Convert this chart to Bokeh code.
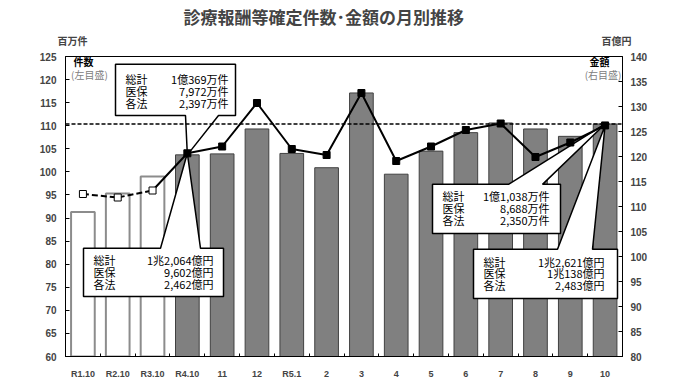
from bokeh.plotting import figure
from bokeh.models import Range1d, LinearAxis, FixedTicker, Span, Label
from bokeh.embed import file_html
from bokeh.resources import INLINE

# ---------------- data ----------------
categories = ["R1.10", "R2.10", "R3.10", "R4.10", "11", "12", "R5.1", "2",
              "3", "4", "5", "6", "7", "8", "9", "10"]
counts = [91.3, 95.3, 99.0, 103.69, 103.9, 109.3, 104.0, 100.9,
          117.1, 99.5, 104.5, 108.5, 110.6, 109.3, 107.7, 110.38]      # 百万件 (left)
amounts = [112.5, 111.8, 113.2, 120.64, 122.0, 130.7, 121.5, 120.3,
           132.7, 119.1, 122.0, 125.3, 126.6, 119.9, 122.8, 126.21]    # 百億円 (right)
n_prev = 3   # earlier-year October values (white bars / open markers)

left_ticks = list(range(60, 130, 5))
right_ticks = list(range(80, 145, 5))

row_labels = ["総計", "医保", "各法"]
count_first = ["1億369万件", "7,972万件", "2,397万件"]
amount_first = ["1兆2,064億円", "9,602億円", "2,462億円"]
count_last = ["1億1,038万件", "8,688万件", "2,350万件"]
amount_last = ["1兆2,621億円", "1兆138億円", "2,483億円"]

title = "診療報酬等確定件数･金額の月別推移"
unit_left, unit_right = "百万件", "百億円"

# ---------------- layout helpers ----------------
L_MIN, L_MAX = 60, 125
R_MIN, R_MAX = 80, 140
FL, FR, FT, FB = 65, 622, 52, 357   # plot-box edges on the page (px)
W, H = 672, 381
N = len(categories)
xc = [i + 0.5 for i in range(N)]     # category slot centres

def px_x(px):
    return (px - FL) / (FR - FL) * N

def px_yl(py):
    return L_MAX - (py - FT) * (L_MAX - L_MIN) / (FB - FT)

def px_yr(py):
    return R_MAX - (py - FT) * (R_MAX - R_MIN) / (FB - FT)

JP = "Noto Sans CJK JP"
NUM = "Liberation Sans"

p = figure(width=W, height=H, x_range=Range1d(0, N),
           y_range=Range1d(L_MIN, L_MAX), output_backend="svg",
           toolbar_location=None,
           min_border_left=FL, min_border_right=W - FR,
           min_border_top=FT, min_border_bottom=H - FB)
p.extra_y_ranges = {"amt": Range1d(R_MIN, R_MAX)}
p.extra_x_ranges = {"page": Range1d(FL, FR)}
p.xgrid.visible = False
p.ygrid.visible = False
p.outline_line_color = "black"
p.outline_line_width = 1
p.background_fill_color = "white"
p.border_fill_color = "white"

# title
p.title.text = title
p.title.align = "left"
p.title.offset = 118
p.title.text_font = JP
p.title.text_font_size = "17px"
p.title.text_font_style = "bold"
p.title.standoff = 2

# the figure's own axes
xa = p.below[0]
ya = p.left[0]

# unit texts above both value axes (an unlined axis in the top panel)
ua = LinearAxis(x_range_name="page", ticker=FixedTicker(ticks=[72, 616]),
                major_label_overrides={72: unit_left, 616: unit_right})
ua.axis_line_color = None
ua.major_tick_line_color = None
ua.minor_tick_line_color = None
ua.major_label_text_font = JP
ua.major_label_text_font_style = "bold"
ua.major_label_text_font_size = "10px"
ua.major_label_standoff = 3
p.add_layout(ua, "above")

# left axis
ya.ticker = FixedTicker(ticks=left_ticks)
ya.major_tick_in = 4
ya.major_tick_out = 0
ya.minor_tick_line_color = None
ya.axis_line_color = "black"
ya.major_label_text_font = NUM
ya.major_label_text_font_style = "bold"
ya.major_label_text_font_size = "10px"
ya.major_label_standoff = 9

# right axis
ra = LinearAxis(y_range_name="amt", ticker=FixedTicker(ticks=right_ticks))
ra.major_tick_in = 4
ra.major_tick_out = 0
ra.minor_tick_line_color = None
ra.axis_line_color = "black"
ra.major_label_text_font = NUM
ra.major_label_text_font_style = "bold"
ra.major_label_text_font_size = "10px"
ra.major_label_standoff = 8
p.add_layout(ra, "right")

# x axis: labels at slot centres, small inside ticks at slot boundaries
xa.ticker = FixedTicker(ticks=xc, minor_ticks=list(range(N + 1)))
xa.major_label_overrides = {c: cat for c, cat in zip(xc, categories)}
xa.major_tick_line_color = None
xa.minor_tick_in = 3
xa.minor_tick_out = 0
xa.minor_tick_line_color = "black"
xa.axis_line_color = "black"
xa.major_label_text_font = NUM
xa.major_label_text_font_style = "bold"
xa.major_label_text_font_size = "9px"
xa.major_label_standoff = 6

# ---------------- bars ----------------
p.vbar(x=xc[:n_prev], top=counts[:n_prev], bottom=0, width=0.68,
       fill_color="white", line_color="#8c8c8c", line_width=2)
p.vbar(x=xc[n_prev:], top=counts[n_prev:], bottom=0, width=0.68,
       fill_color="#808080", line_color="#404040", line_width=1)

# ---------------- callouts ----------------
def callout(x0, x1, y0, y1, b0, b1, tip, bottom_wedge, yconv):
    X0, X1, B0, B1 = px_x(x0), px_x(x1), px_x(b0), px_x(b1)
    Y0, Y1 = yconv(y0), yconv(y1)
    tx, ty = tip
    if bottom_wedge:
        xs = [X0, X1, X1, B1, tx, B0, X0]
        ys = [Y0, Y0, Y1, Y1, ty, Y1, Y1]
    else:
        xs = [X0, B0, tx, B1, X1, X1, X0]
        ys = [Y0, Y0, ty, Y0, Y0, Y1, Y1]
    return xs, ys

i0 = n_prev          # first current month (R4.10)
il = N - 1           # latest month

xs, ys = callout(115, 235, 60, 112, 185, 218, (xc[i0], counts[i0]), True, px_yl)
p.patch(xs, ys, fill_color="white", line_color="black", line_width=1.5)
xs, ys = callout(83, 223, 247, 296, 160, 200, (xc[i0], amounts[i0]), False, px_yr)
p.patch(xs, ys, fill_color="white", line_color="black", line_width=1.5, y_range_name="amt")
xs, ys = callout(473, 617, 248, 298, 557, 592, (xc[il], amounts[il]), False, px_yr)
p.patch(xs, ys, fill_color="white", line_color="black", line_width=1.5, y_range_name="amt")
xs, ys = callout(432, 560, 182, 232, 508, 542, (xc[il], counts[il]), False, px_yl)
p.patch(xs, ys, fill_color="white", line_color="black", line_width=1.5)

# reference level of latest count
p.add_layout(Span(location=counts[-1], dimension="width", line_color="black",
                  line_width=1.5, line_dash="4 2"))

# ---------------- amount line ----------------
p.line(x=xc[:n_prev], y=amounts[:n_prev], line_color="black",
       line_width=2, line_dash="6 3", y_range_name="amt")
p.line(x=xc[n_prev - 1:], y=amounts[n_prev - 1:], line_color="black",
       line_width=2, y_range_name="amt")
p.scatter(x=xc[:n_prev], y=amounts[:n_prev], marker="square", size=7,
          fill_color="white", line_color="black", line_width=1, y_range_name="amt")
p.scatter(x=xc[n_prev:], y=amounts[n_prev:], marker="square", size=7,
          fill_color="black", line_color="black", y_range_name="amt")

# ---------------- texts ----------------
def lab(px, py, text, align="left", size="11px", style="normal", color="black", font=JP):
    p.add_layout(Label(x=px_x(px), y=px_yl(py), text=text, text_align=align,
                       text_baseline="middle", text_font=font, text_font_size=size,
                       text_font_style=style, text_color=color))

def box_text(lx, rx, rows_y, values):
    for name, val, yy in zip(row_labels, values, rows_y):
        lab(lx, yy, name)
        lab(rx, yy, val, align="right")

box_text(125, 228, [75, 87, 99], count_first)
box_text(93, 213, [259, 271, 283], amount_first)
box_text(442, 549, [194, 206, 218], count_last)
box_text(483, 604, [261, 272, 284], amount_last)

lab(83, 57, "件数", align="center", size="10px", style="bold")
lab(89, 70, "(左目盛)", align="center", size="10px", color="#808080")
lab(599, 57, "金額", align="center", size="10px", style="bold")
lab(621, 70, "(右目盛)", align="right", size="10px", color="#808080")

open("out.html", "w").write(file_html(p, INLINE))
